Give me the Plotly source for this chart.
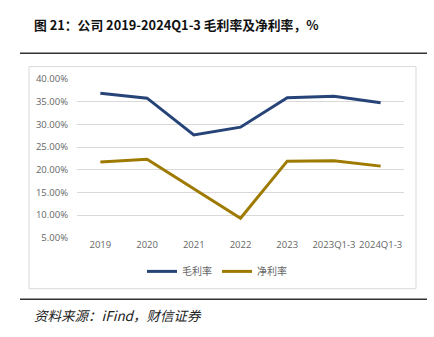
import plotly.graph_objects as go

categories = ["2019", "2020", "2021", "2022", "2023", "2023Q1-3", "2024Q1-3"]
gross_margin = [0.369, 0.358, 0.277, 0.294, 0.359, 0.362, 0.348]
net_margin = [0.217, 0.223, 0.158, 0.093, 0.219, 0.220, 0.208]
y_ticks = [0.05, 0.10, 0.15, 0.20, 0.25, 0.30, 0.35, 0.40]
y_tick_labels = ["5.00%", "10.00%", "15.00%", "20.00%", "25.00%", "30.00%", "35.00%", "40.00%"]

W, H = 434, 337
def px(x): return x / W
def py(y): return 1 - y / H

fig = go.Figure()
fig.add_trace(go.Scatter(x=categories, y=gross_margin, mode="lines", name="毛利率",
                         line=dict(color="#264478", width=3)))
fig.add_trace(go.Scatter(x=categories, y=net_margin, mode="lines", name="净利率",
                         line=dict(color="#9E7A00", width=3)))

tick_font = dict(family="Open Sans, Noto Sans CJK SC", size=9.5, color="#666666")

fig.update_layout(
    width=W, height=H,
    margin=dict(l=0, r=0, t=0, b=0),
    paper_bgcolor="white", plot_bgcolor="white",
    showlegend=True,
    legend=dict(orientation="h", x=0.5, xanchor="center", y=py(275), yanchor="middle",
                font=dict(family="Noto Sans CJK SC", size=10, color="#666666"),
                itemwidth=30, tracegroupgap=0),
    xaxis=dict(domain=[px(77), px(404)], tickfont=tick_font, showgrid=False,
               showline=False, ticks="", range=[-0.5, 6.5]),
    yaxis=dict(domain=[py(240), py(75)], range=[0.05, 0.40], tickvals=y_ticks,
               ticktext=y_tick_labels, tickfont=tick_font, showgrid=True,
               gridcolor="#D9D9D9", gridwidth=1, zeroline=False, showline=False,
               ticks="", ticklabelstandoff=8),
    font=dict(family="Noto Sans CJK SC"),
)

shapes = [
    dict(type="rect", xref="paper", yref="paper", x0=px(29), x1=px(416), y0=py(293), y1=py(62),
         line=dict(color="#D9D9D9", width=1)),
    dict(type="line", xref="paper", yref="paper", x0=px(20), x1=px(427), y0=py(48), y1=py(48),
         line=dict(color="#333333", width=1.5)),
    dict(type="line", xref="paper", yref="paper", x0=px(20), x1=px(427), y0=py(304), y1=py(304),
         line=dict(color="#333333", width=1.5)),
]
fig.update_layout(shapes=shapes)

fig.add_annotation(xref="paper", yref="paper", x=px(32), y=py(18), xanchor="left", yanchor="middle",
                   text="<b>图 21：公司 2019-2024Q1-3 毛利率及净利率，%</b>", showarrow=False,
                   font=dict(family="Noto Sans CJK SC", size=12.8, color="#111111"))
fig.add_annotation(xref="paper", yref="paper", x=px(32), y=py(320), xanchor="left", yanchor="middle",
                   text="<i>资料来源：iFind，财信证券</i>", showarrow=False,
                   font=dict(family="Noto Sans CJK SC", size=13.5, color="#222222"))

fig.write_html("out.html")
